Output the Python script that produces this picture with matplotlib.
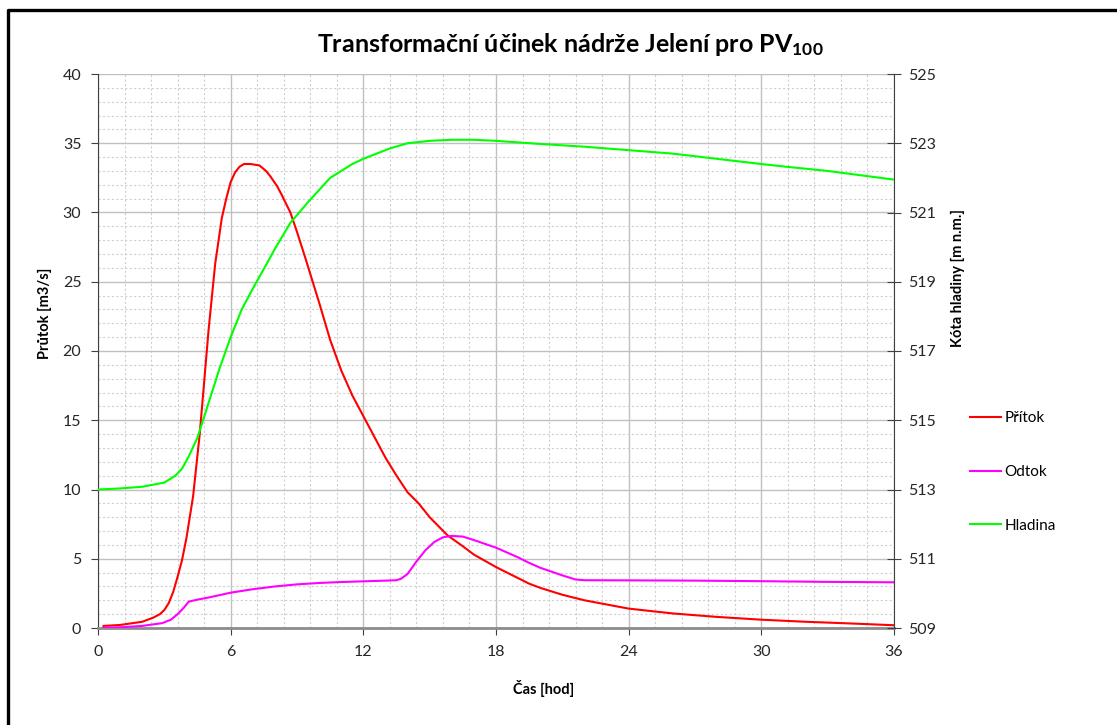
import numpy as np
import matplotlib
matplotlib.use("Agg")
import matplotlib.pyplot as plt
from matplotlib.lines import Line2D
from matplotlib.ticker import MultipleLocator, FixedLocator

plt.rcParams['font.family'] = ['Lato', 'DejaVu Sans']
plt.rcParams['mathtext.default'] = 'regular'

# Přítok [m3/s]
t_pritok = [0.25, 1, 2, 2.5, 2.8, 3, 3.2, 3.4, 3.6, 3.8, 4.0, 4.3, 4.6, 5.0, 5.3, 5.6, 5.8,
            6.0, 6.2, 6.4, 6.6, 6.9, 7.3, 7.6, 7.8, 8.1, 8.3, 8.7, 9.0, 9.4, 10, 10.5, 11,
            11.5, 12, 13, 13.5, 14, 14.5, 15, 15.8, 16.5, 17, 18, 19, 19.5, 20, 21, 22, 23,
            24, 26, 28, 30, 32, 34, 36]
q_pritok = [0.15, 0.22, 0.45, 0.75, 1.0, 1.3, 1.8, 2.6, 3.7, 4.9, 6.5, 9.5, 14.0, 21.5,
            26.3, 29.6, 31.0, 32.2, 32.9, 33.3, 33.5, 33.5, 33.4, 33.0, 32.6, 31.9, 31.3,
            30.0, 28.6, 26.6, 23.5, 20.8, 18.6, 16.8, 15.3, 12.3, 11.0, 9.8, 9.0, 8.0, 6.7,
            5.9, 5.3, 4.4, 3.6, 3.2, 2.9, 2.4, 2.0, 1.7, 1.4, 1.05, 0.8, 0.6, 0.45, 0.33, 0.2]

# Odtok [m3/s]
t_odtok = [0.25, 1, 2, 2.9, 3.3, 3.6, 3.9, 4.1, 4.5, 5, 6, 7, 8, 9, 10, 11, 12, 13, 13.5,
           13.7, 14, 14.4, 14.8, 15.2, 15.6, 16, 16.5, 17, 18, 19, 19.5, 20, 21, 21.6, 22,
           24, 27, 30, 33, 36]
q_odtok = [0.02, 0.05, 0.15, 0.35, 0.6, 1.0, 1.5, 1.9, 2.05, 2.2, 2.55, 2.8, 3.0, 3.15,
           3.25, 3.32, 3.37, 3.42, 3.45, 3.55, 3.9, 4.8, 5.6, 6.2, 6.55, 6.65, 6.6, 6.35,
           5.8, 5.1, 4.7, 4.35, 3.8, 3.5, 3.45, 3.44, 3.42, 3.38, 3.33, 3.3]

# Hladina [m n.m.]
t_hladina = [0, 1, 2, 3, 3.5, 3.8, 4.1, 4.5, 5, 5.5, 6, 6.5, 7, 7.7, 8, 8.7, 9.5, 10.5,
             11.5, 12, 13.2, 14, 15, 16, 17, 18, 20, 22, 24, 26, 28, 30, 31, 33, 36]
h_hladina = [513.0, 513.03, 513.08, 513.2, 513.4, 513.6, 513.95, 514.5, 515.5, 516.5,
             517.4, 518.2, 518.8, 519.6, 519.95, 520.7, 521.3, 522.0, 522.4, 522.55, 522.85,
             523.0, 523.07, 523.1, 523.1, 523.07, 522.98, 522.9, 522.8, 522.7, 522.55,
             522.4, 522.33, 522.2, 521.95]

fig = plt.figure(figsize=(11.17, 7.25), dpi=100)
W, H = 1117, 725
ax = fig.add_axes([98 / W, 1 - 628 / H, (894 - 98) / W, (628 - 74) / H])
ax2 = ax.twinx()

l1, = ax.plot(t_pritok, q_pritok, color='#ff0000', lw=1.5, label='Přítok', zorder=3)
l2, = ax.plot(t_odtok, q_odtok, color='#ff00ff', lw=1.5, label='Odtok', zorder=3)
l3, = ax2.plot(t_hladina, h_hladina, color='#00ff00', lw=1.5, label='Hladina', zorder=3)

ax.set_xlim(0, 36)
ax.set_ylim(0, 40)
ax2.set_ylim(509, 525)

ax.xaxis.set_major_locator(MultipleLocator(6))
ax.xaxis.set_minor_locator(MultipleLocator(1.2))
ax.yaxis.set_major_locator(MultipleLocator(5))
ax.yaxis.set_minor_locator(MultipleLocator(1))
ax2.yaxis.set_major_locator(FixedLocator(np.arange(509, 526, 2)))

ax.grid(which='major', color='#c0c0c0', lw=1.0, ls='-', zorder=0)
ax.grid(which='minor', color='#cfcfcf', lw=0.8, ls=(0, (2, 2)), zorder=0)
ax.set_axisbelow(True)

ax.tick_params(axis='x', which='major', direction='out', length=5, color='#404040',
               labelsize=11.5, pad=7, labelcolor='#262626')
ax.tick_params(axis='y', which='major', direction='out', length=5, color='#404040',
               labelsize=11.5, pad=7, labelcolor='#262626')
ax.tick_params(which='minor', length=0)
ax2.tick_params(axis='y', which='major', direction='inout', length=10, color='#404040',
                labelsize=11.5, pad=5, labelcolor='#262626')

for s in ['top', 'right']:
    ax.spines[s].set_visible(False)
for s in ['top', 'left', 'bottom']:
    ax2.spines[s].set_visible(False)
ax.spines['left'].set_color('#404040')
ax.spines['bottom'].set_color('#8c8c8c')
ax.spines['bottom'].set_linewidth(2)
ax2.spines['right'].set_color('#404040')

ax.set_xlabel('Čas [hod]', fontsize=10.5, fontweight='bold')
ax.xaxis.set_label_coords((544 - 98) / 796, -(680 - 628) / 554)
ax.set_ylabel('Průtok [m3/s]', fontsize=10.5, fontweight='bold')
ax.yaxis.set_label_coords((52 - 98) / 796, (628 - 313) / 554)
ax2.set_ylabel('Kóta hladiny [m n.m.]', fontsize=10.5, fontweight='bold')
ax2.yaxis.set_label_coords((951 - 98) / 796, (628 - 278) / 554)

fig.text(570 / W, 1 - 45 / H, 'Transformační účinek nádrže Jelení pro PV$_{100}$',
         fontsize=18, fontweight='bold', ha='center', va='center')

fig.legend(handles=[l1, l2, l3], loc='center left', bbox_to_anchor=(970 / W, 1 - 472 / H),
           frameon=False, fontsize=11, handlelength=2.05, handletextpad=0.2,
           labelspacing=2.6, borderpad=0, borderaxespad=0)

# chart border
fig.add_artist(Line2D([7.5 / W, 7.5 / W, 1.0], [0.0, 1 - 9.5 / H, 1 - 9.5 / H],
                      transform=fig.transFigure, color='black', lw=2.4))

fig.savefig('out.png', dpi=100)
